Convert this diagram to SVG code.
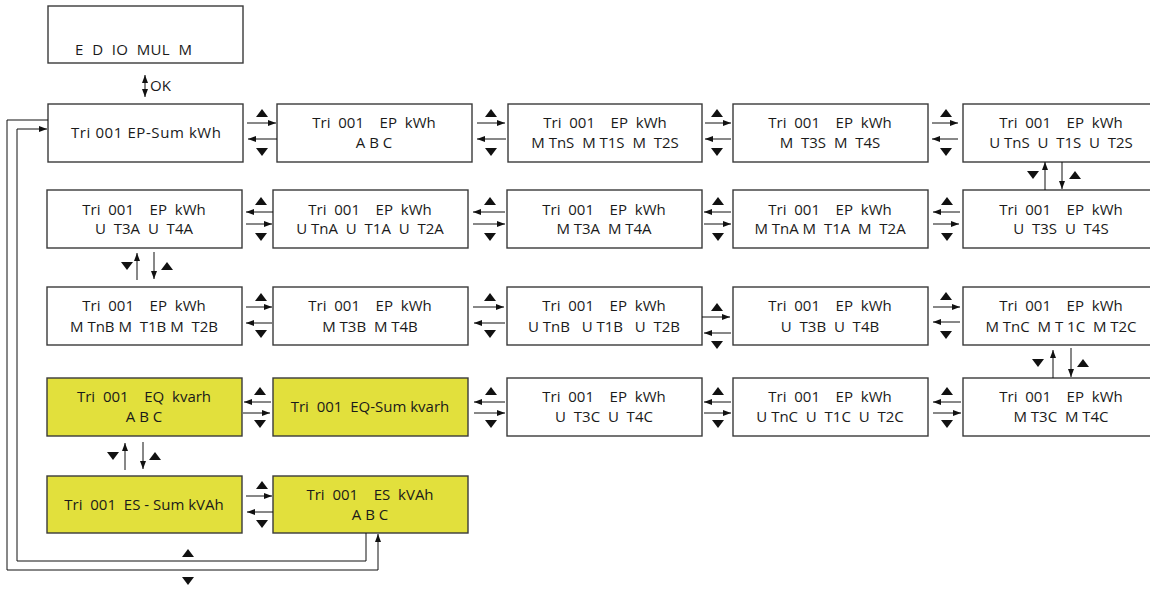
<svg xmlns="http://www.w3.org/2000/svg" xmlns:xlink="http://www.w3.org/1999/xlink" width="1150" height="591" viewBox="0 0 1150 591">
<style>
.box{fill:#ffffff;stroke:#3a3a3a;stroke-width:1.4}
.yel{fill:#e2e03c}
text{font-family:"Open Sans","Liberation Sans",sans-serif;font-size:15px;fill:#1a1a1a;text-anchor:middle;white-space:pre}
.ln{stroke:#111;stroke-width:1;fill:none}
.tri{fill:#111}
</style>
<defs>
<marker id="ah" viewBox="0 0 8 6" refX="8" refY="3" markerWidth="8" markerHeight="6" orient="auto-start-reverse" markerUnits="userSpaceOnUse"><path d="M0,0 L8,3 L0,6 z" fill="#111"/></marker>
<path id="up" d="M-6,4 L6,4 L0,-4 z"/>
<path id="dn" d="M-6,-4 L6,-4 L0,4 z"/>
</defs>
<rect width="1150" height="591" fill="#ffffff"/>

<g id="n-top"><rect class="box" x="48" y="6" width="195" height="57"/><text x="75" y="55" style="text-anchor:start" textLength="117" lengthAdjust="spacing">E  D  IO  MUL  M</text></g>

<g id="n-r1c1"><rect class="box" x="48" y="104" width="195" height="58"/><text x="146" y="138" textLength="150" lengthAdjust="spacing">Tri 001 EP-Sum kWh</text></g>
<g id="n-r1c2"><rect class="box" x="277" y="104" width="195" height="58"/><text x="374" y="128">Tri  001    EP  kWh</text><text x="374" y="148">A B C</text></g>
<g id="n-r1c3"><rect class="box" x="508" y="104" width="194" height="58"/><text x="605" y="128">Tri  001    EP  kWh</text><text x="605" y="148">M TnS  M T1S  M  T2S</text></g>
<g id="n-r1c4"><rect class="box" x="733" y="104" width="195" height="58"/><text x="830" y="128">Tri  001    EP  kWh</text><text x="830" y="148">M  T3S  M  T4S</text></g>
<g id="n-r1c5"><rect class="box" x="963" y="104" width="195" height="58"/><text x="1061" y="128">Tri  001    EP  kWh</text><text x="1061" y="148">U TnS  U  T1S  U  T2S</text></g>

<g id="n-r2c1"><rect class="box" x="47" y="190" width="195" height="58"/><text x="144" y="215">Tri  001    EP  kWh</text><text x="144" y="234">U  T3A  U  T4A</text></g>
<g id="n-r2c2"><rect class="box" x="273" y="190" width="195" height="58"/><text x="370" y="215">Tri  001    EP  kWh</text><text x="370" y="234">U TnA  U  T1A  U  T2A</text></g>
<g id="n-r2c3"><rect class="box" x="507" y="190" width="195" height="58"/><text x="604" y="215">Tri  001    EP  kWh</text><text x="604" y="234">M T3A  M T4A</text></g>
<g id="n-r2c4"><rect class="box" x="733" y="190" width="195" height="58"/><text x="830" y="215">Tri  001    EP  kWh</text><text x="830" y="234">M TnA M  T1A  M  T2A</text></g>
<g id="n-r2c5"><rect class="box" x="963" y="190" width="195" height="58"/><text x="1061" y="215">Tri  001    EP  kWh</text><text x="1061" y="234">U  T3S  U  T4S</text></g>

<g id="n-r3c1"><rect class="box" x="47" y="287" width="195" height="58"/><text x="144" y="311">Tri  001    EP  kWh</text><text x="144" y="332">M TnB M  T1B M  T2B</text></g>
<g id="n-r3c2"><rect class="box" x="273" y="287" width="195" height="58"/><text x="370" y="311">Tri  001    EP  kWh</text><text x="370" y="332">M T3B  M T4B</text></g>
<g id="n-r3c3"><rect class="box" x="507" y="287" width="195" height="58"/><text x="604" y="311">Tri  001    EP  kWh</text><text x="604" y="332">U TnB   U T1B   U  T2B</text></g>
<g id="n-r3c4"><rect class="box" x="733" y="287" width="195" height="58"/><text x="830" y="311">Tri  001    EP  kWh</text><text x="830" y="332">U  T3B  U  T4B</text></g>
<g id="n-r3c5"><rect class="box" x="963" y="287" width="195" height="58"/><text x="1061" y="311">Tri  001    EP  kWh</text><text x="1061" y="332">M TnC  M T 1C  M T2C</text></g>

<g id="n-r4c1"><rect class="box yel" x="47" y="378" width="195" height="58"/><text x="144" y="402">Tri  001    EQ  kvarh</text><text x="144" y="422">A B C</text></g>
<g id="n-r4c2"><rect class="box yel" x="273" y="378" width="195" height="58"/><text x="370" y="412">Tri  001  EQ-Sum kvarh</text></g>
<g id="n-r4c3"><rect class="box" x="507" y="378" width="195" height="58"/><text x="604" y="402">Tri  001    EP  kWh</text><text x="604" y="422">U  T3C  U  T4C</text></g>
<g id="n-r4c4"><rect class="box" x="733" y="378" width="195" height="58"/><text x="830" y="402">Tri  001    EP  kWh</text><text x="830" y="422">U TnC  U  T1C  U  T2C</text></g>
<g id="n-r4c5"><rect class="box" x="963" y="378" width="195" height="58"/><text x="1061" y="402">Tri  001    EP  kWh</text><text x="1061" y="422">M T3C  M T4C</text></g>

<g id="n-r5c1"><rect class="box yel" x="47" y="476" width="195" height="57"/><text x="144" y="510">Tri  001  ES - Sum kVAh</text></g>
<g id="n-r5c2"><rect class="box yel" x="273" y="476" width="195" height="57"/><text x="370" y="500">Tri  001    ES  kVAh</text><text x="370" y="520">A B C</text></g>

<g id="connectors">
<line class="ln" x1="145" y1="75" x2="145" y2="97" marker-start="url(#ah)" marker-end="url(#ah)"/>
<text x="150" y="91" style="text-anchor:start">OK</text>

<line class="ln" x1="247" y1="123" x2="276" y2="123" marker-end="url(#ah)"/>
<line class="ln" x1="277" y1="139" x2="248" y2="139" marker-end="url(#ah)"/>
<use href="#up" class="tri" x="262" y="113"/><use href="#dn" class="tri" x="262" y="152"/>
<line class="ln" x1="477" y1="123" x2="505" y2="123" marker-end="url(#ah)"/>
<line class="ln" x1="506" y1="139" x2="477" y2="139" marker-end="url(#ah)"/>
<use href="#up" class="tri" x="491" y="113"/><use href="#dn" class="tri" x="491" y="152"/>
<line class="ln" x1="705" y1="123" x2="731" y2="123" marker-end="url(#ah)"/>
<line class="ln" x1="731" y1="139" x2="705" y2="139" marker-end="url(#ah)"/>
<use href="#up" class="tri" x="717" y="113"/><use href="#dn" class="tri" x="717" y="152"/>
<line class="ln" x1="932" y1="123" x2="958" y2="123" marker-end="url(#ah)"/>
<line class="ln" x1="958" y1="139" x2="932" y2="139" marker-end="url(#ah)"/>
<use href="#up" class="tri" x="946" y="113"/><use href="#dn" class="tri" x="946" y="152"/>

<use href="#dn" class="tri" x="1033" y="175"/>
<line class="ln" x1="1045" y1="190" x2="1045" y2="162" marker-end="url(#ah)"/>
<line class="ln" x1="1062" y1="162" x2="1062" y2="189" marker-end="url(#ah)"/>
<use href="#up" class="tri" x="1075" y="175"/>

<line class="ln" x1="273" y1="212" x2="246" y2="212" marker-end="url(#ah)"/>
<line class="ln" x1="246" y1="224" x2="272" y2="224" marker-end="url(#ah)"/>
<use href="#up" class="tri" x="261" y="201"/><use href="#dn" class="tri" x="261" y="237"/>
<line class="ln" x1="505" y1="212" x2="473" y2="212" marker-end="url(#ah)"/>
<line class="ln" x1="473" y1="224" x2="505" y2="224" marker-end="url(#ah)"/>
<use href="#up" class="tri" x="490" y="201"/><use href="#dn" class="tri" x="490" y="237"/>
<line class="ln" x1="731" y1="212" x2="704" y2="212" marker-end="url(#ah)"/>
<line class="ln" x1="704" y1="224" x2="731" y2="224" marker-end="url(#ah)"/>
<use href="#up" class="tri" x="718" y="201"/><use href="#dn" class="tri" x="718" y="237"/>
<line class="ln" x1="960" y1="212" x2="933" y2="212" marker-end="url(#ah)"/>
<line class="ln" x1="933" y1="224" x2="959" y2="224" marker-end="url(#ah)"/>
<use href="#up" class="tri" x="947" y="201"/><use href="#dn" class="tri" x="947" y="237"/>

<use href="#dn" class="tri" x="127" y="266"/>
<line class="ln" x1="137" y1="280" x2="137" y2="253" marker-end="url(#ah)"/>
<line class="ln" x1="154" y1="252" x2="154" y2="279" marker-end="url(#ah)"/>
<use href="#up" class="tri" x="167" y="266"/>

<line class="ln" x1="246" y1="307" x2="272" y2="307" marker-end="url(#ah)"/>
<line class="ln" x1="272" y1="323" x2="246" y2="323" marker-end="url(#ah)"/>
<use href="#up" class="tri" x="261" y="297"/><use href="#dn" class="tri" x="261" y="334"/>
<line class="ln" x1="473" y1="307" x2="504" y2="307" marker-end="url(#ah)"/>
<line class="ln" x1="505" y1="323" x2="474" y2="323" marker-end="url(#ah)"/>
<use href="#up" class="tri" x="490" y="297"/><use href="#dn" class="tri" x="490" y="334"/>
<line class="ln" x1="702" y1="317" x2="730" y2="317" marker-end="url(#ah)"/>
<line class="ln" x1="731" y1="333" x2="704" y2="333" marker-end="url(#ah)"/>
<use href="#up" class="tri" x="717" y="307"/><use href="#dn" class="tri" x="717" y="345"/>
<line class="ln" x1="933" y1="307" x2="960" y2="307" marker-end="url(#ah)"/>
<line class="ln" x1="960" y1="322" x2="933" y2="322" marker-end="url(#ah)"/>
<use href="#up" class="tri" x="946" y="296"/><use href="#dn" class="tri" x="946" y="335"/>

<use href="#dn" class="tri" x="1038" y="363"/>
<line class="ln" x1="1053" y1="378" x2="1053" y2="350" marker-end="url(#ah)"/>
<line class="ln" x1="1071" y1="348" x2="1071" y2="377" marker-end="url(#ah)"/>
<use href="#up" class="tri" x="1083" y="363"/>

<line class="ln" x1="271" y1="402" x2="244" y2="402" marker-end="url(#ah)"/>
<line class="ln" x1="243" y1="413" x2="270" y2="413" marker-end="url(#ah)"/>
<use href="#up" class="tri" x="260" y="391"/><use href="#dn" class="tri" x="260" y="424"/>
<line class="ln" x1="505" y1="402" x2="474" y2="402" marker-end="url(#ah)"/>
<line class="ln" x1="474" y1="413" x2="505" y2="413" marker-end="url(#ah)"/>
<use href="#up" class="tri" x="491" y="391"/><use href="#dn" class="tri" x="491" y="424"/>
<line class="ln" x1="731" y1="402" x2="704" y2="402" marker-end="url(#ah)"/>
<line class="ln" x1="704" y1="413" x2="731" y2="413" marker-end="url(#ah)"/>
<use href="#up" class="tri" x="718" y="391"/><use href="#dn" class="tri" x="718" y="424"/>
<line class="ln" x1="961" y1="402" x2="933" y2="402" marker-end="url(#ah)"/>
<line class="ln" x1="933" y1="413" x2="961" y2="413" marker-end="url(#ah)"/>
<use href="#up" class="tri" x="947" y="391"/><use href="#dn" class="tri" x="947" y="424"/>

<use href="#dn" class="tri" x="113" y="456"/>
<line class="ln" x1="125" y1="470" x2="125" y2="443" marker-end="url(#ah)"/>
<line class="ln" x1="143" y1="442" x2="143" y2="469" marker-end="url(#ah)"/>
<use href="#up" class="tri" x="155" y="456"/>

<line class="ln" x1="246" y1="496" x2="272" y2="496" marker-end="url(#ah)"/>
<line class="ln" x1="273" y1="512" x2="247" y2="512" marker-end="url(#ah)"/>
<use href="#up" class="tri" x="262" y="485"/><use href="#dn" class="tri" x="262" y="524"/>

<polyline class="ln" points="366,533 366,561 17,561 17,129 47,129" marker-end="url(#ah)"/>
<polyline class="ln" points="48,120 7,120 7,570 378,570 378,534" marker-end="url(#ah)"/>
<use href="#up" class="tri" x="188" y="553"/>
<use href="#dn" class="tri" x="188" y="581"/>
</g>
</svg>
